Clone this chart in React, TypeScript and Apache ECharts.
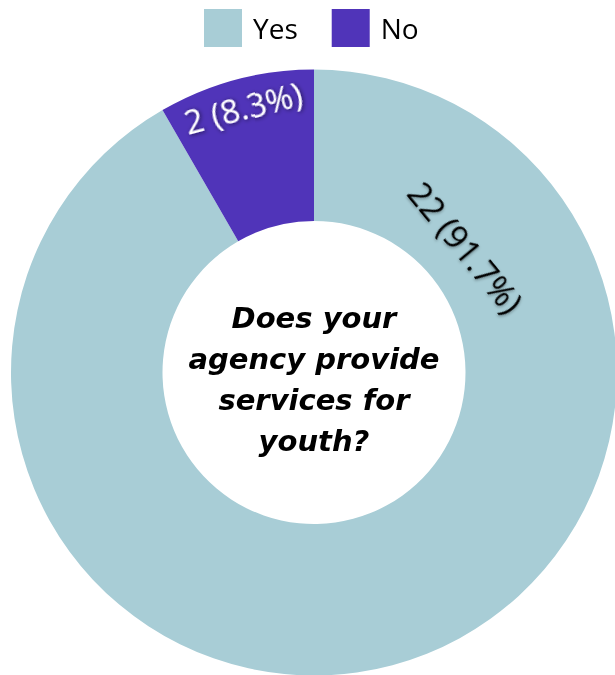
import React, { useEffect, useRef } from "react";
import * as echarts from "echarts";

const categories = ["Yes", "No"];
const counts = [22, 2];
const colors = ["#a8cdd6", "#5034b9"];
const centerTitle = ["Does your", "agency provide", "services for", "youth?"];

// label placement along each slice (fraction of the slice's sweep) and radius in px
const labelSweepFrac = [0.153, 0.5];
const labelRadius = [197, 274];

const CX = 314;
const CY = 372.5;
const R_OUT = 303;
const R_IN = 151.5;

export default function App() {
  const ref = useRef<HTMLDivElement>(null);
  useEffect(() => {
    if (!ref.current) return;
    const chart = echarts.init(ref.current, null, { renderer: "svg" });
    const total = counts.reduce((a, b) => a + b, 0);
    const starts: number[] = [];
    let acc = 0;
    counts.forEach((v) => {
      starts.push(acc);
      acc += v;
    });
    const data = categories.map((name, i) => ({
      name,
      value: counts[i],
      itemStyle: { color: colors[i] },
      label:
        i === 0
          ? {
              color: "#000",
              textShadowColor: "rgba(0,0,0,0.35)",
              textShadowBlur: 3,
              textShadowOffsetX: 1,
              textShadowOffsetY: 1,
            }
          : {
              color: "#fff",
              textShadowColor: "rgba(0,0,0,0.6)",
              textShadowBlur: 4,
              textShadowOffsetX: 1,
              textShadowOffsetY: 1,
            },
    }));
    chart.setOption({
      animation: false,
      legend: {
        top: 9,
        left: 204,
        padding: 0,
        icon: "rect",
        itemWidth: 38,
        itemHeight: 38,
        itemGap: 34,
        data: categories,
        textStyle: {
          fontSize: 28,
          fontFamily: "Open Sans",
          color: "#000",
          padding: [0, 0, 0, 6],
        },
      },
      graphic: [
        {
          type: "text",
          x: CX,
          y: CY + 7,
          style: {
            text: centerTitle.join("\n"),
            fill: "#000",
            fontSize: 29,
            fontWeight: "bold",
            fontStyle: "italic",
            fontFamily: "DejaVu Sans",
            align: "center",
            verticalAlign: "middle",
            lineHeight: 41,
          },
        },
      ],
      series: [
        {
          type: "pie",
          center: [CX, CY],
          radius: [R_IN, R_OUT],
          startAngle: 90,
          clockwise: true,
          silent: true,
          emphasis: { disabled: true },
          labelLine: { show: false },
          label: {
            show: true,
            position: "inside",
            fontFamily: "Open Sans",
            fontWeight: 500,
            fontSize: 33,
            formatter: (p: any) => `${p.value} (${p.percent.toFixed(1)}%)`,
          },
          labelLayout: (params: any) => {
            const i = params.dataIndex;
            const theta =
              ((starts[i] + counts[i] * labelSweepFrac[i]) / total) * 360; // clockwise from top
            const rad = (theta * Math.PI) / 180;
            return {
              x: CX + labelRadius[i] * Math.sin(rad),
              y: CY - labelRadius[i] * Math.cos(rad),
              rotate: -theta,
              align: "center",
              verticalAlign: "middle",
            };
          },
          data,
        },
      ],
    });
    return () => chart.dispose();
  }, []);
  return (
    <div
      ref={ref}
      style={{ position: "fixed", left: 0, top: 0, width: 615, height: 675 }}
    />
  );
}
